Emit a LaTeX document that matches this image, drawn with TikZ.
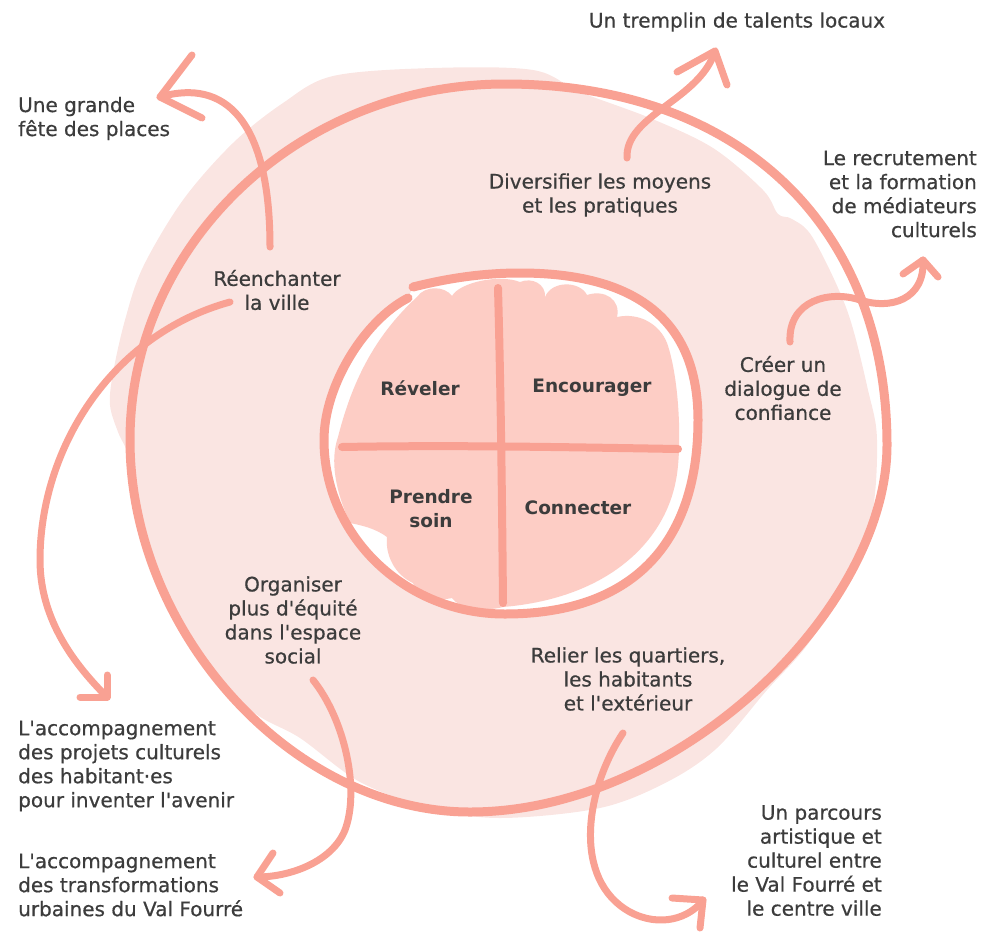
\documentclass[tikz,border=0pt]{standalone}
\usepackage{fontspec}
\setmainfont{DejaVu Sans}[Ligatures=TeXOff]
\newfontfamily\labelfont{DejaVu Sans}[Ligatures=TeXOff,FakeBold=0.6]
\usetikzlibrary{calc}
\definecolor{salmon}{HTML}{F9A193}
\definecolor{blush}{HTML}{FAE5E2}
\definecolor{petal}{HTML}{FDCDC5}
\definecolor{ink}{HTML}{3C3C3C}

\begin{document}
\begin{tikzpicture}[x=1pt,y=-1pt,
  txt/.style={text=ink,font=\labelfont\fontsize{20}{24}\selectfont,inner sep=0pt},
  core/.style={text=ink,font=\fontsize{18.5}{24}\selectfont\bfseries,inner sep=0pt,align=center},
  ringline/.style={draw=salmon,line width=9pt,line cap=round,line join=round},
  crossline/.style={draw=salmon,line width=8pt,line cap=round},
  flowline/.style={draw=salmon,line width=7pt,line cap=round,line join=round}]

\useasboundingbox (0,0) rectangle (984,932);

% soft background blob
\fill[blush] plot[smooth cycle, tension=0.55] coordinates {
  (433,68) (533,70) (580,92) (650,118) (713,148) (763,190) (778,214)
  (792,219) (813,238) (847,310) (868,390) (877,440) (871,520) (842,592)
  (805,648) (767,690) (717,748) (667,782) (600,808) (500,818) (430,808)
  (360,782) (300,738) (252,711) (197,654) (157,580) (134,497) (128,455)
  (118,432) (110,405) (113,373) (125,320) (143,267) (183,200) (233,143)
  (283,103) (333,76)};

% white disc inside the inner ring
\fill[white] (413,287) .. controls (445,279) and (480,273) .. (520,273)
  .. controls (636,273) and (698,320) .. (698,420)
  .. controls (698,546) and (630,614) .. (505,614)
  .. controls (405,614) and (324,536) .. (324,440)
  .. controls (324,385) and (365,320) .. (408,298) -- cycle;

% cloudy core
\fill[petal] (350,523) .. controls (335,490) and (330,460) .. (338,437)
  .. controls (350,390) and (370,340) .. (417,297)
  .. controls (425,285) and (445,286) .. (452,296)
  .. controls (460,282) and (500,274) .. (520,282)
  .. controls (532,277) and (546,284) .. (545,297)
  .. controls (552,280) and (580,281) .. (587,295)
  .. controls (605,289) and (621,300) .. (617,317)
  .. controls (640,312) and (660,325) .. (667,343)
  .. controls (680,380) and (682,450) .. (676,480)
  .. controls (665,540) and (610,598) .. (503,607)
  .. controls (485,612) and (458,608) .. (452,598)
  .. controls (435,602) and (415,595) .. (413,583)
  .. controls (395,575) and (385,555) .. (387,537)
  .. controls (375,528) and (360,525) .. (350,523) -- cycle;

% quadrant cross
\draw[crossline] (498,288) .. controls (501,400) and (502,500) .. (503,603);
\draw[crossline] (342,447) .. controls (450,445) and (560,447) .. (678,449);

% inner ring (hand drawn, small overlap at the top left)
\draw[ringline] (413,287) .. controls (445,279) and (480,273) .. (520,273)
  .. controls (636,273) and (698,320) .. (698,420)
  .. controls (698,546) and (630,614) .. (505,614)
  .. controls (405,614) and (324,536) .. (324,440)
  .. controls (324,385) and (365,320) .. (408,298);

% outer ring
\draw[ringline] (505,84) .. controls (742,84) and (887,228) .. (887,445)
  .. controls (887,610) and (678,812) .. (470,812)
  .. controls (293,812) and (130,633) .. (130,440)
  .. controls (130,244) and (299,84) .. (505,84) -- cycle;

% core labels
\node[core] (reveler) at (420,388) {Réveler};
\node[core] (encour) at (592,388) {Encourager};
\node[core] (prendre) at (431,509) {Prendre\\soin};
\node[core] (connect) at (578,508) {Connecter};

% ring labels
\node[txt,align=center] (reench) at (277,290) {Réenchanter\\la ville};
\node[txt,align=center] (divers) at (600,195) {Diversifier les moyens\\et les pratiques};
\node[txt,align=center] (creer) at (783,388) {Créer un\\dialogue de\\confiance};
\node[txt,align=center] (organ) at (293,620) {Organiser\\plus d'équité\\dans l'espace\\social};
\node[txt,align=center] (relier) at (628,679) {Relier les quartiers,\\les habitants\\et l'extérieur};

% outcome labels
\node[txt,anchor=west,align=left] (fete) at (18,118.5) {Une grande\\fête des places};
\node[txt] (tremplin) at (737,22) {Un tremplin de talents locaux};
\node[txt,anchor=east,align=right] (recrut) at (977,194) {Le recrutement\\et la formation\\de médiateurs\\culturels};
\node[txt,anchor=west,align=left] (accproj) at (18,766) {L'accompagnement\\des projets culturels\\des habitant·es\\pour inventer l'avenir};
\node[txt,anchor=west,align=left] (acctrans) at (18,885) {L'accompagnement\\des transformations\\urbaines du Val Fourré};
\node[txt,anchor=east,align=right] (parcours) at (882,860.5) {Un parcours\\artistique et\\culturel entre\\le Val Fourré et\\le centre ville};

% arrow ends
\coordinate (reench-out) at (270,247);
\coordinate (fete-in) at (160,97);
\coordinate (divers-out) at (627,158);
\coordinate (tremplin-in) at (715,51);
\coordinate (creer-out) at (790,342);
\coordinate (recrut-in) at (923,260);
\coordinate (reench-out2) at (230,302);
\coordinate (accproj-in) at (107,697);
\coordinate (organ-out) at (313,680);
\coordinate (acctrans-in) at (257,877);
\coordinate (relier-out) at (623,733);
\coordinate (parcours-in) at (703,900);

% Réenchanter -> fête
\draw[flowline] (reench-out) .. controls (270,120) and (225,78) .. (fete-in);
\draw[flowline] (fete-in) ++(32,-42) -- (fete-in) -- ++(42,21);
% Diversifier -> tremplin
\draw[flowline] (divers-out) .. controls (625,115) and (700,100) .. (tremplin-in);
\draw[flowline] (tremplin-in) ++(-38,21) -- (tremplin-in) -- ++(12,34);
% Créer -> recrutement
\draw[flowline] (creer-out) .. controls (788,300) and (830,290) .. (860,300)
  .. controls (890,310) and (925,300) .. (recrut-in);
\draw[flowline] (recrut-in) ++(-20,14) -- (recrut-in) -- ++(15,17);
% Réenchanter -> projets culturels
\draw[flowline] (reench-out2) .. controls (110,335) and (40,450) .. (40,560)
  .. controls (40,620) and (75,665) .. (accproj-in);
\draw[flowline] (accproj-in) ++(0,-22) -- (accproj-in) -- ++(-27,0);
% Organiser -> transformations urbaines
\draw[flowline] (organ-out) .. controls (345,720) and (360,790) .. (345,830)
  .. controls (332,862) and (290,877) .. (acctrans-in);
\draw[flowline] (acctrans-in) ++(16,-24) -- (acctrans-in) -- ++(23,16);
% Relier -> parcours
\draw[flowline] (relier-out) .. controls (585,790) and (572,880) .. (630,912)
  .. controls (660,928) and (690,918) .. (parcours-in);
\draw[flowline] (parcours-in) ++(-31,-2) -- (parcours-in) -- ++(-3,28);

\end{tikzpicture}
\end{document}
